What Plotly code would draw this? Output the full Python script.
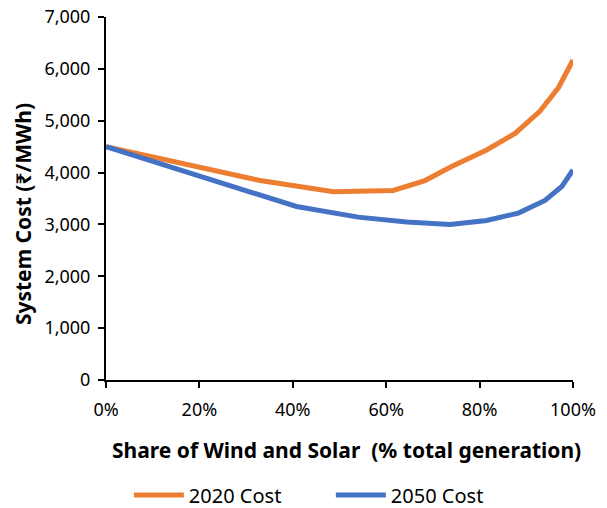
import plotly.graph_objects as go

share_2020 = [0, 16.6, 33, 48.7, 61.5, 68.3, 74, 81.5, 87.6, 92.9, 96.9, 100]
cost_2020 = [4500, 4170, 3846, 3630, 3655, 3846, 4115, 4436, 4756, 5180, 5640, 6170]

share_2050 = [0, 20, 40.8, 54, 64.4, 73.7, 81.5, 88.3, 94, 97.6, 100]
cost_2050 = [4500, 3935, 3346, 3141, 3045, 3000, 3077, 3218, 3462, 3731, 4050]

x_ticks = [0, 20, 40, 60, 80, 100]
x_tick_labels = ["0%", "20%", "40%", "60%", "80%", "100%"]
y_ticks = [0, 1000, 2000, 3000, 4000, 5000, 6000, 7000]
y_tick_labels = ["0", "1,000", "2,000", "3,000", "4,000", "5,000", "6,000", "7,000"]

FONT = "Noto Sans"

fig = go.Figure()
fig.add_trace(go.Scatter(x=share_2020, y=cost_2020, mode="lines", name="2020 Cost",
                         line=dict(color="#ED7D31", width=5)))
fig.add_trace(go.Scatter(x=share_2050, y=cost_2050, mode="lines", name="2050 Cost",
                         line=dict(color="#4472C4", width=5)))

fig.update_layout(
    width=599, height=500,
    margin=dict(l=98, r=34, t=9, b=128, autoexpand=False),
    plot_bgcolor="white", paper_bgcolor="white",
    font=dict(family=FONT, size=18, color="black"),
    showlegend=True,
    legend=dict(orientation="h", xref="container", yref="container",
                x=0.539, xanchor="center", y=0.026, yanchor="middle",
                font=dict(size=20), itemwidth=50,
                entrywidth=137, entrywidthmode="pixels"),
    xaxis=dict(range=[0, 100], tickvals=x_ticks, ticktext=x_tick_labels, automargin=False,
               showgrid=False, zeroline=False, showline=True, linecolor="black", linewidth=2,
               ticks="outside", ticklen=6, tickwidth=2, tickcolor="black",
               ticklabelstandoff=6, ticklabeloverflow="allow"),
    yaxis=dict(range=[0, 7000], tickvals=y_ticks, ticktext=y_tick_labels, automargin=False,
               showgrid=False, zeroline=False, showline=True, linecolor="black", linewidth=2,
               ticks="outside", ticklen=6, tickwidth=2, tickcolor="black",
               ticklabelstandoff=4, ticklabeloverflow="allow"),
    annotations=[
        dict(text="<b>Share of Wind and Solar \u00a0(% total generation)</b>",
             xref="paper", yref="paper", x=0.514, y=0, yshift=-70,
             xanchor="center", yanchor="middle", showarrow=False,
             font=dict(size=21)),
        dict(text="<b>System Cost (\u20b9/MWh)</b>",
             xref="paper", yref="paper", x=0, xshift=-83, y=0.457,
             xanchor="center", yanchor="middle", showarrow=False, textangle=-90,
             font=dict(size=21)),
    ],
)

fig.write_html("out.html")
